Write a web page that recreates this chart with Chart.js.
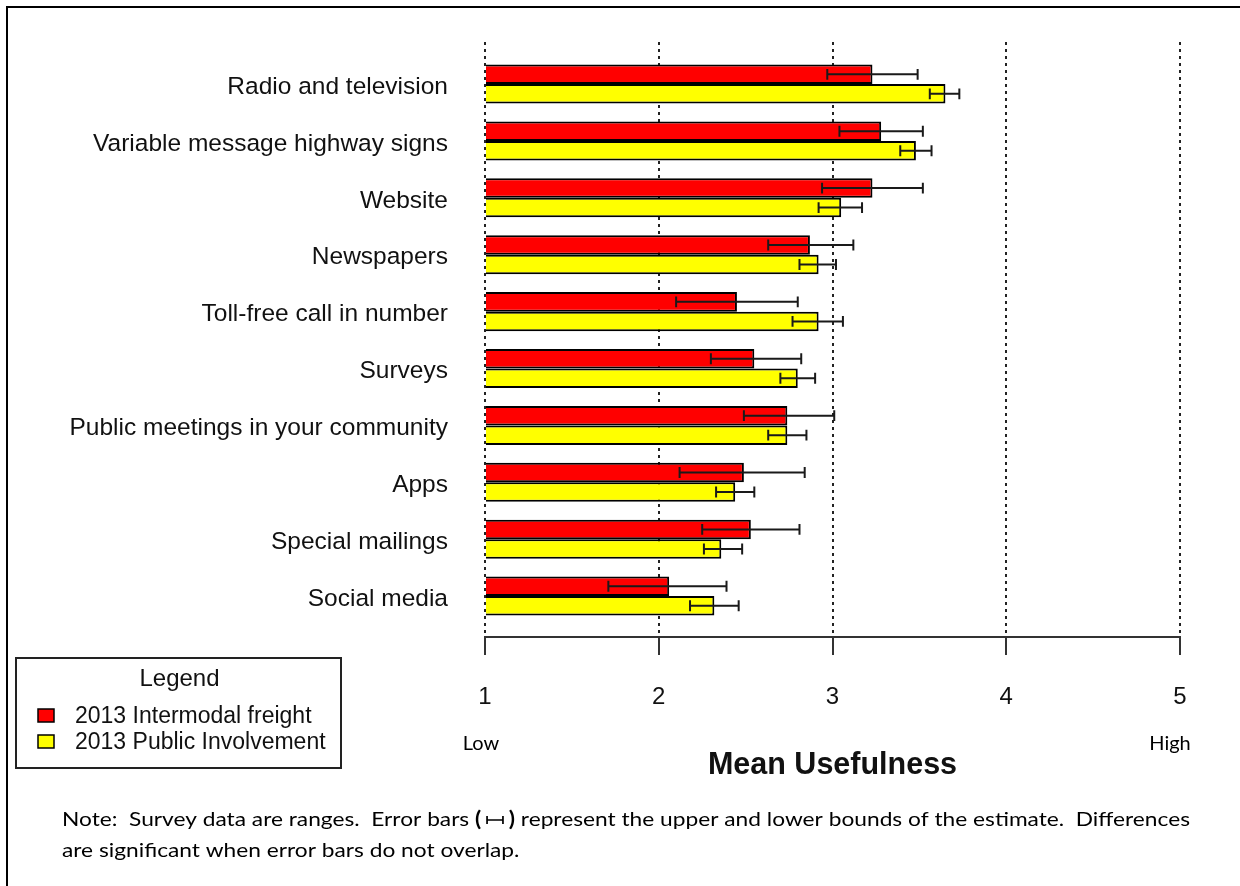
<!DOCTYPE html>
<html><head><meta charset="utf-8">
<script src="https://cdn.jsdelivr.net/npm/chart.js@4.4.1/dist/chart.umd.min.js"></script>
<style>
html,body{margin:0;padding:0;background:#fff;overflow:hidden}
#wrap{position:relative;width:1240px;height:886px;overflow:hidden}
#frame{position:absolute;left:6px;top:6px;width:1300px;height:1000px;border-left:2px solid #000;border-top:2px solid #000;pointer-events:none}
</style></head><body>
<div id="wrap"><canvas id="c" width="1240" height="886"></canvas><div id="frame"></div></div>
<script>
const categories = ['Radio and television','Variable message highway signs','Website','Newspapers','Toll-free call in number','Surveys','Public meetings in your community','Apps','Special mailings','Social media'];
const seriesNames = ['2013 Intermodal freight','2013 Public Involvement'];
const freightMean = [3.23,3.28,3.23,2.87,2.45,2.55,2.74,2.49,2.53,2.06];
const freightLow  = [2.97,3.04,2.94,2.63,2.10,2.30,2.49,2.12,2.25,1.71];
const freightHigh = [3.49,3.52,3.52,3.12,2.80,2.82,3.01,2.84,2.81,2.39];
const publicMean  = [3.65,3.48,3.05,2.92,2.92,2.80,2.74,2.44,2.36,2.32];
const publicLow   = [3.56,3.39,2.92,2.81,2.77,2.70,2.63,2.33,2.26,2.18];
const publicHigh  = [3.73,3.57,3.17,3.02,3.06,2.90,2.85,2.55,2.48,2.46];
const xTicks = [1,2,3,4,5];
const scaleEnds = ['Low','High'];
const axisTitle = 'Mean Usefulness';
const legendTitle = 'Legend';
const noteParts1 = ['Note:  Survey data are ranges.  Error bars ', ' represent the upper and lower bounds of the estimate.  Differences'];
const noteLine2 = 'are significant when error bars do not overlap.';

const ARIAL = "'Liberation Sans', Arial, sans-serif";
const CAL = "Lato, 'Open Sans', sans-serif";

const errorBars = {
  id: 'errorBars',
  afterDatasetsDraw(chart) {
    const ctx = chart.ctx, xs = chart.scales.x;
    chart.data.datasets.forEach((ds, di) => {
      const meta = chart.getDatasetMeta(di);
      meta.data.forEach((bar, j) => {
        const y = bar.y;
        const x1 = xs.getPixelForValue(ds.lo[j]);
        const x2 = xs.getPixelForValue(ds.hi[j]);
        const h = bar.height * 0.28;
        ctx.save();
        ctx.strokeStyle = '#1a1a1a';
        ctx.lineWidth = 2;
        ctx.beginPath();
        ctx.moveTo(x1, y); ctx.lineTo(x2, y);
        ctx.moveTo(x1, y - h); ctx.lineTo(x1, y + h);
        ctx.moveTo(x2, y - h); ctx.lineTo(x2, y + h);
        ctx.stroke();
        ctx.restore();
      });
    });
  }
};

const extras = {
  id: 'extras',
  afterDraw(chart) {
    const ctx = chart.ctx, xs = chart.scales.x, ca = chart.chartArea;
    ctx.save();
    // Low / High
    ctx.fillStyle = '#000';
    ctx.font = "20px " + CAL;
    ctx.textAlign = 'center';
    ctx.textBaseline = 'middle';
    ctx.fillText(scaleEnds[0], xs.getPixelForValue(xTicks[0]) - 4, ca.bottom + 107);
    ctx.fillText(scaleEnds[1], xs.getPixelForValue(xTicks[xTicks.length - 1]) - 10, ca.bottom + 107);

    // Legend box
    const lx = 16, ly = 658, lw = 325, lh = 110;
    ctx.lineWidth = 2;
    ctx.strokeStyle = '#222';
    ctx.strokeRect(lx, ly, lw, lh);
    ctx.fillStyle = '#111';
    ctx.font = "24px " + ARIAL;
    ctx.textAlign = 'center';
    ctx.fillText(legendTitle, lx + lw / 2 + 1, ly + 21);
    ctx.textAlign = 'left';
    ctx.font = "23px " + ARIAL;
    chart.data.datasets.forEach((ds, i) => {
      const yy = ly + 59 + i * 26;
      ctx.fillStyle = ds.backgroundColor;
      ctx.fillRect(lx + 22, yy - 8, 16, 13);
      ctx.lineWidth = 1.5;
      ctx.strokeStyle = '#000';
      ctx.strokeRect(lx + 22, yy - 8, 16, 13);
      ctx.fillStyle = '#111';
      ctx.fillText(ds.label, lx + 59, yy);
    });

    // Note
    const fontN = "20px " + CAL, fontB = "bold 20px " + CAL;
    ctx.font = fontN;
    const symW = 14, gap = ctx.measureText(' ').width;
    ctx.font = fontB;
    const pw = ctx.measureText('(').width, cw = ctx.measureText(')').width;
    ctx.font = fontN;
    const w1 = ctx.measureText(noteParts1[0]).width, w2 = ctx.measureText(noteParts1[1]).width;
    const total = w1 + pw + gap + symW + gap + cw + w2;
    const sx = 1128 / total;
    const nx = 62, ny1 = 820, ny2 = 851;
    ctx.fillStyle = '#000';
    ctx.textAlign = 'left';
    ctx.save();
    ctx.translate(nx, ny1);
    ctx.scale(sx, 1);
    let cx = 0;
    ctx.font = fontN; ctx.fillText(noteParts1[0], cx, 0); cx += w1;
    ctx.font = fontB; ctx.fillText('(', cx, 0); cx += pw + gap;
    ctx.strokeStyle = '#000'; ctx.lineWidth = 1.5;
    ctx.beginPath();
    ctx.moveTo(cx, 0); ctx.lineTo(cx + symW, 0);
    ctx.moveTo(cx, -4); ctx.lineTo(cx, 4);
    ctx.moveTo(cx + symW, -4); ctx.lineTo(cx + symW, 4);
    ctx.stroke();
    cx += symW + gap;
    ctx.font = fontB; ctx.fillText(')', cx, 0); cx += cw;
    ctx.font = fontN; ctx.fillText(noteParts1[1], cx, 0);
    ctx.restore();
    ctx.save();
    ctx.translate(nx, ny2);
    ctx.scale(sx, 1);
    ctx.font = fontN;
    ctx.fillText(noteLine2, 0, 0);
    ctx.restore();
    ctx.restore();
  }
};

new Chart(document.getElementById('c'), {
  type: 'bar',
  data: {
    datasets: [
      { label: seriesNames[0], data: freightMean.map((v, i) => ({ x: v, y: i })), lo: freightLow, hi: freightHigh,
        backgroundColor: '#FF0000', borderColor: '#000', borderWidth: 2, base: 1 },
      { label: seriesNames[1], data: publicMean.map((v, i) => ({ x: v, y: i })), lo: publicLow, hi: publicHigh,
        backgroundColor: '#FFFF00', borderColor: '#000', borderWidth: 2, base: 1 }
    ]
  },
  options: {
    indexAxis: 'y',
    responsive: false,
    animation: false,
    devicePixelRatio: 1,
    layout: { padding: { top: 42, right: 60, left: 0, bottom: 0 } },
    datasets: { bar: { categoryPercentage: 0.686, barPercentage: 1 } },
    plugins: { legend: { display: false }, tooltip: { enabled: false } },
    scales: {
      x: {
        type: 'linear', position: 'bottom', min: 1, max: 5,
        afterBuildTicks: s => { s.ticks = xTicks.map(v => ({ value: v })); },
        afterFit: s => { s.height = 249; },
        grid: { color: '#222', lineWidth: 2, drawTicks: true, tickLength: 18, tickColor: '#333', tickWidth: 2, tickBorderDash: [] },
        border: { display: true, color: '#333', width: 2, dash: [3, 4] },
        ticks: { font: { family: ARIAL, size: 24 }, color: '#111', padding: 28 },
        title: { display: true, text: axisTitle, color: '#111', font: { family: ARIAL, size: 30.5, weight: 'bold' }, padding: { top: 0, bottom: 102 } }
      },
      y: {
        type: 'linear', reverse: true, min: -0.74, max: 9.72, offset: false,
        afterBuildTicks: s => { s.ticks = categories.map((c, i) => ({ value: i })); },
        afterFit: s => { s.width = 485; s.paddingTop = 0; s.paddingBottom = 0; },
        grid: { display: false, drawTicks: false, offset: false },
        border: { display: false },
        ticks: { autoSkip: false, callback: v => categories[v], font: { family: ARIAL, size: 24.5 }, color: '#111', padding: 37, labelOffset: 3 }
      }
    }
  },
  plugins: [errorBars, extras]
});
</script>
</body></html>
